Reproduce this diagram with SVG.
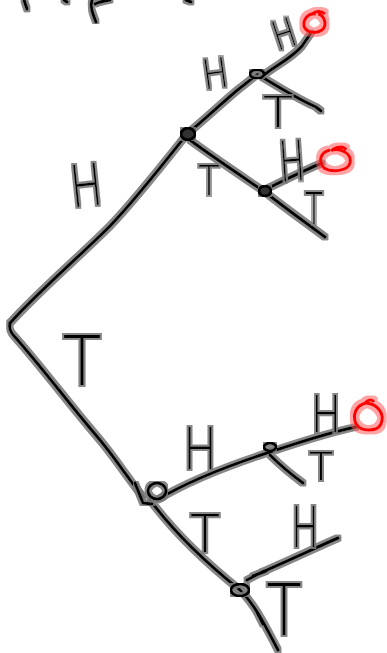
<svg xmlns="http://www.w3.org/2000/svg" width="387" height="653" viewBox="0 0 387 653">
<defs>
<filter id="halo" x="-5%" y="-5%" width="110%" height="110%">
<feMorphology in="SourceAlpha" operator="dilate" radius="2" result="d"/>
<feFlood flood-color="#7a7a7a" flood-opacity="0.9"/>
<feComposite in2="d" operator="in" result="g"/>
<feMerge><feMergeNode in="g"/><feMergeNode in="SourceGraphic"/></feMerge>
</filter>
<filter id="redhalo" x="-20%" y="-20%" width="140%" height="140%">
<feMorphology in="SourceAlpha" operator="dilate" radius="2.5" result="d"/>
<feFlood flood-color="#ff5a5a" flood-opacity="0.55"/>
<feComposite in2="d" operator="in" result="g"/>
<feMerge><feMergeNode in="g"/><feMergeNode in="SourceGraphic"/></feMerge>
</filter>
</defs>
<style>
.ln{fill:none;stroke:#000;stroke-width:3;stroke-linecap:round;stroke-linejoin:round}
.nd{fill:none;stroke:#000;stroke-width:3}
.nf{fill:#333;stroke:#000;stroke-width:3}
.rd{fill:none;stroke:#f00;stroke-width:3}
.lb{font-family:Inter,"Noto Sans","DejaVu Sans",sans-serif;font-weight:200;fill:#000;text-anchor:middle}
</style>
<rect width="387" height="653" fill="#fff"/>
<g id="fragments" filter="url(#halo)">
<path class="ln" d="M24,0 L27,9"/>
<path class="ln" d="M64,0 L67,2"/>
<path class="ln" d="M92,0 C90,6 92,12 96,22 M95,4 C98,2 104,1 110,0"/>
<path class="ln" d="M186,0 L191,2"/>
</g>
<g id="connectors" filter="url(#halo)">
<path class="ln" d="M187,134 C160,168 135,200 110,226 C80,256 40,290 10,323"/>
<path class="ln" d="M10,323 Q8,330 15,337 C40,365 70,405 100,440 C115,458 128,478 143,497"/>
<path class="ln" d="M150,500 C180,540 215,570 240,590 C255,605 265,625 278,650"/>
<path class="ln" d="M187,134 C210,115 225,100 240,88 C248,82 252,78 258,74"/>
<path class="ln" d="M264,75 C275,66 292,58 302,46 L311,33"/>
<path class="ln" d="M262,77 C280,88 300,100 316,107 L321,111"/>
<path class="ln" d="M190,140 C210,155 240,175 265,192 C285,208 305,222 325,237"/>
<path class="ln" d="M268,188 C285,180 305,170 322,163"/>
<path class="ln" d="M157,500 C190,480 230,465 270,452 C300,442 330,432 356,427"/>
<path class="ln" d="M270,455 C280,465 292,475 303,483"/>
<path class="ln" d="M247,580 L262,572 C290,560 315,548 338,538 M253,576 L266,571"/>
<path class="ln" d="M257,612 L263,624"/>
</g>
<g id="node-1" filter="url(#halo)"><ellipse class="nf" cx="188" cy="134" rx="7" ry="6"/></g>
<g id="node-2" filter="url(#halo)"><ellipse class="nd" cx="257" cy="74" rx="7" ry="4.5"/></g>
<g id="node-3" filter="url(#halo)"><ellipse class="nf" cx="265" cy="191" rx="6" ry="5"/></g>
<g id="node-4" filter="url(#halo)"><ellipse class="nd" cx="157" cy="491" rx="9" ry="8"/><path class="ln" d="M135,483 L143,503 L152,504"/></g>
<g id="node-5" filter="url(#halo)"><ellipse class="nd" cx="270" cy="447" rx="6" ry="4"/></g>
<g id="node-6" filter="url(#halo)"><ellipse class="nd" cx="240" cy="590" rx="9" ry="6"/></g>
<g id="outcome-1" filter="url(#redhalo)"><path class="rd" d="M316,14 C308,12 303,20 304,26 C306,33 316,34 322,30 C328,25 324,15 318,14 M311,15 C316,10 322,11 325,14"/></g>
<g id="outcome-2" filter="url(#redhalo)"><path class="rd" d="M330,150 C320,152 318,162 324,168 C332,173 348,171 350,163 C352,154 342,148 332,150 M331,151 C336,146 344,146 346,150"/></g>
<g id="outcome-3" filter="url(#redhalo)"><path class="rd" d="M366,403 C356,405 352,415 356,424 C361,432 377,432 381,424 C385,414 378,404 366,403 M364,404 C368,399 372,399 374,402"/></g>
<g id="labels" filter="url(#halo)">
<text class="lb" x="86" y="206" font-size="58" textLength="30" lengthAdjust="spacingAndGlyphs" transform="rotate(-6 86 185)">H</text>
<text class="lb" x="215" y="88" font-size="41" textLength="24" lengthAdjust="spacingAndGlyphs" transform="rotate(-8 215 73)">H</text>
<text class="lb" x="284" y="48" font-size="40" textLength="21" lengthAdjust="spacingAndGlyphs" transform="rotate(-18 284 34)">H</text>
<text class="lb" x="278" y="127" font-size="42" textLength="34" lengthAdjust="spacingAndGlyphs">T</text>
<text class="lb" x="209" y="195" font-size="41" textLength="24" lengthAdjust="spacingAndGlyphs">T</text>
<text class="lb" x="292" y="181" font-size="56" textLength="24" lengthAdjust="spacingAndGlyphs" transform="rotate(-4 292 162)">H</text>
<text class="lb" x="314" y="224" font-size="44" textLength="20" lengthAdjust="spacingAndGlyphs">T</text>
<text class="lb" x="82" y="385" font-size="68" textLength="44" lengthAdjust="spacingAndGlyphs">T</text>
<text class="lb" x="200" y="469" font-size="58" textLength="32" lengthAdjust="spacingAndGlyphs">H</text>
<text class="lb" x="326" y="432" font-size="50" textLength="28" lengthAdjust="spacingAndGlyphs">H</text>
<text class="lb" x="321" y="480" font-size="38" textLength="27" lengthAdjust="spacingAndGlyphs">T</text>
<text class="lb" x="205" y="552" font-size="52" textLength="34" lengthAdjust="spacingAndGlyphs">T</text>
<text class="lb" x="305" y="547" font-size="56" textLength="26" lengthAdjust="spacingAndGlyphs">H</text>
<text class="lb" x="284" y="635" font-size="72" textLength="40" lengthAdjust="spacingAndGlyphs">T</text>
</g>
</svg>
